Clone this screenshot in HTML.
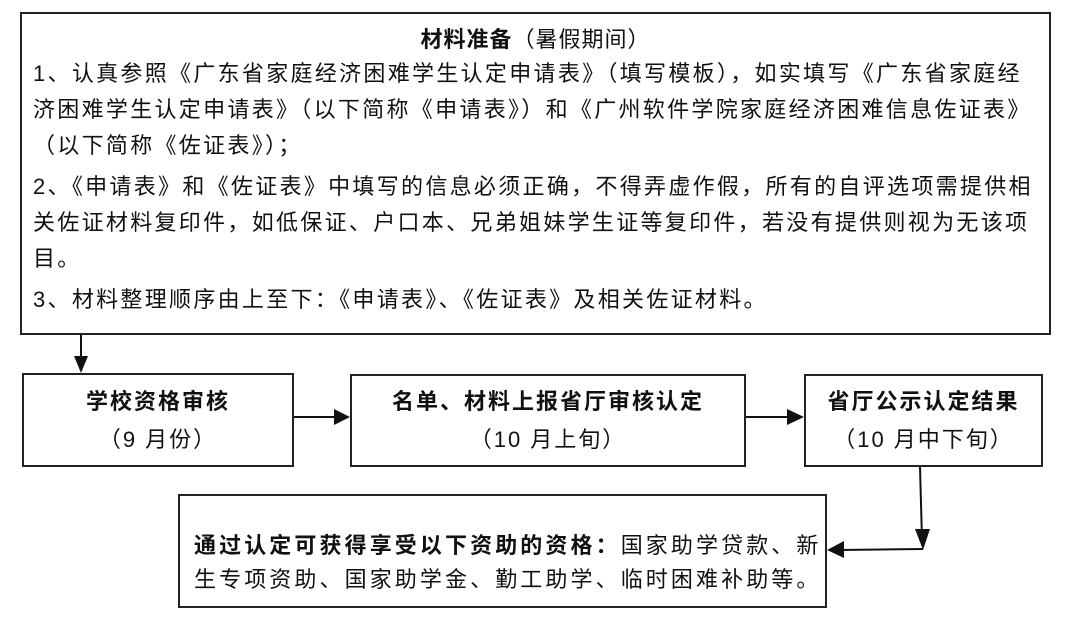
<!DOCTYPE html>
<html><head><meta charset="utf-8"><style>
body{margin:0;width:1080px;height:644px;background:#fff;position:relative;overflow:hidden;font-family:"Liberation Sans","Noto Sans CJK SC",sans-serif;color:#111}
.b{position:absolute;border:2px solid #222;box-sizing:border-box;background:#fff}
.l{position:absolute;left:33px;white-space:nowrap;font-size:22px;line-height:28px;letter-spacing:2.3px}
.c{position:absolute;width:100%;text-align:center;font-size:22px;line-height:28px;white-space:nowrap;letter-spacing:2px}
svg{position:absolute;left:0;top:0}
</style></head><body>
<div class="b" style="left:20px;top:12px;width:1031px;height:323px"></div>
<div class="c" style="left:20px;width:1031px;top:26px;font-size:22px;letter-spacing:1px"><b>材料准备</b>（暑假期间）</div>
<div class="l" style="top:60px">1、认真参照《广东省家庭经济困难学生认定申请表》（填写模板），如实填写《广东省家庭经</div>
<div class="l" style="top:96px">济困难学生认定申请表》（以下简称《申请表》）和《广州软件学院家庭经济困难信息佐证表》</div>
<div class="l" style="top:132px">（以下简称《佐证表》）；</div>
<div class="l" style="top:173px">2、《申请表》和《佐证表》中填写的信息必须正确，不得弄虚作假，所有的自评选项需提供相</div>
<div class="l" style="top:209px">关佐证材料复印件，如低保证、户口本、兄弟姐妹学生证等复印件，若没有提供则视为无该项</div>
<div class="l" style="top:245px">目。</div>
<div class="l" style="top:286px">3、材料整理顺序由上至下：《申请表》、《佐证表》及相关佐证材料。</div>

<div class="b" style="left:22px;top:373px;width:272px;height:94px"></div>
<div class="c" style="left:22px;width:272px;top:388px;font-weight:bold">学校资格审核</div>
<div class="c" style="left:22px;width:272px;top:426px">（9 月份）</div>

<div class="b" style="left:350px;top:374px;width:396px;height:93px"></div>
<div class="c" style="left:350px;width:396px;top:388px;font-weight:bold">名单、材料上报省厅审核认定</div>
<div class="c" style="left:350px;width:396px;top:426px">（10 月上旬）</div>

<div class="b" style="left:804px;top:374px;width:239px;height:93px"></div>
<div class="c" style="left:804px;width:239px;top:388px;font-weight:bold">省厅公示认定结果</div>
<div class="c" style="left:804px;width:239px;top:426px">（10 月中下旬）</div>

<div class="b" style="left:178px;top:494px;width:649px;height:114px"></div>
<div class="l" style="left:194px;top:532px;letter-spacing:3.1px"><b>通过认定可获得享受以下资助的资格：</b>国家助学贷款、新</div>
<div class="l" style="left:194px;top:566px;letter-spacing:3.1px">生专项资助、国家助学金、勤工助学、临时困难补助等。</div>

<svg width="1080" height="644">
<g stroke="#111" stroke-width="2" fill="#111">
<line x1="81" y1="335" x2="81" y2="360"/><polygon points="74,356 88,356 81,373" stroke="none"/>
<line x1="294" y1="417" x2="336" y2="417"/><polygon points="334,409 334,425 350,417" stroke="none"/>
<line x1="746" y1="417" x2="790" y2="417"/><polygon points="787,409 787,425 804,417" stroke="none"/>
<line x1="920" y1="467" x2="922" y2="540"/><polygon points="915,529 930,529 923,550" stroke="none"/>
<line x1="923" y1="549" x2="840" y2="550"/><polygon points="844,541 844,558 827,550" stroke="none"/>
</g></svg>
</body></html>
